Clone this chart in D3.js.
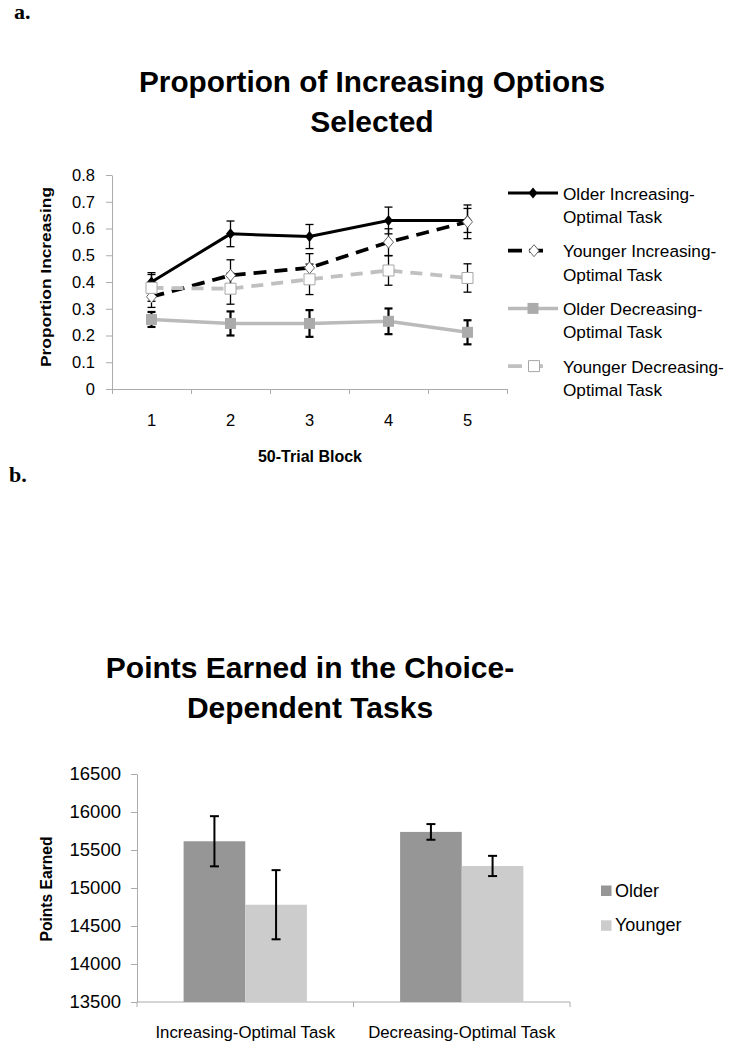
<!DOCTYPE html>
<html>
<head>
<meta charset="utf-8">
<script src="https://cdn.jsdelivr.net/npm/d3@7"></script>
<style>
  body { margin: 0; background: #fff; }
  svg text { font-family: "Liberation Sans", Arial, sans-serif; }
</style>
</head>
<body>
<script>
// ---- Chart a: proportion of increasing options ----
const blocks = [1, 2, 3, 4, 5];
const propTicks = [0, 0.1, 0.2, 0.3, 0.4, 0.5, 0.6, 0.7, 0.8];
const olderInc = [0.40, 0.58, 0.57, 0.63, 0.63];
const olderIncErr = [0.035, 0.048, 0.045, 0.05, 0.045];
const youngerInc = [0.345, 0.425, 0.453, 0.549, 0.625];
const youngerIncErr = [0.04, 0.058, 0.053, 0.05, 0.063];
const olderDec = [0.26, 0.245, 0.245, 0.253, 0.212];
const olderDecErr = [0.028, 0.045, 0.05, 0.048, 0.045];
const youngerDec = [0.378, 0.375, 0.41, 0.443, 0.415];
const youngerDecErr = [0.05, 0.058, 0.057, 0.055, 0.053];

// ---- Chart b: points earned ----
const tasks = ["Increasing-Optimal Task", "Decreasing-Optimal Task"];
const ageGroups = ["Older", "Younger"];
const olderPoints = [15615, 15738];
const olderPointsErr = [330, 103];
const youngerPoints = [14780, 15290];
const youngerPointsErr = [455, 133];
const pointTicks = [13500, 14000, 14500, 15000, 15500, 16000, 16500];

// Colors
const axisColor = "#ababab";
const greyLine = "#bababa";
const greyMarker = "#ababab";
const olderBar = "#969696";
const youngerBar = "#cccccc";

const svg = d3.select("body").append("svg")
    .attr("width", 730)
    .attr("height", 1050);

// Panel letters
svg.append("text")
    .attr("x", 14).attr("y", 19)
    .style("font-family", '"Liberation Serif", "Times New Roman", serif')
    .attr("font-weight", "bold")
    .attr("font-size", 22)
    .text("a.");

svg.append("text")
    .attr("x", 9).attr("y", 482)
    .style("font-family", '"Liberation Serif", "Times New Roman", serif')
    .attr("font-weight", "bold")
    .attr("font-size", 22)
    .text("b.");

// ================= Chart a =================
const xA = d3.scaleLinear().domain([0.5, 5.5]).range([112, 507]);
const yA = d3.scaleLinear().domain([0, 0.8]).range([389, 175]);

svg.append("text")
    .attr("x", 372).attr("y", 92)
    .attr("text-anchor", "middle")
    .attr("font-weight", "bold")
    .attr("font-size", 30)
    .attr("textLength", 466)
    .attr("lengthAdjust", "spacingAndGlyphs")
    .text("Proportion of Increasing Options");

svg.append("text")
    .attr("x", 372).attr("y", 132)
    .attr("text-anchor", "middle")
    .attr("font-weight", "bold")
    .attr("font-size", 30)
    .text("Selected");

// Y axis
const yAxisA = svg.append("g")
    .attr("transform", "translate(112,0)")
    .call(d3.axisLeft(yA)
        .tickValues(propTicks)
        .tickSize(6)
        .tickSizeOuter(0)
        .tickPadding(11)
        .tickFormat(d => d === 0 ? "0" : d3.format(".1f")(d)));
yAxisA.selectAll("path, line").attr("stroke", axisColor);
yAxisA.selectAll("text")
    .attr("font-size", 16.5)
    .attr("fill", "#000");

// X axis: ticks sit between blocks
const blockEdges = blocks.map(b => b - 0.5).concat(blocks[blocks.length - 1] + 0.5);
const xAxisA = svg.append("g")
    .attr("transform", "translate(0,389)")
    .call(d3.axisBottom(xA)
        .tickValues(blockEdges)
        .tickSize(5)
        .tickSizeOuter(0)
        .tickFormat(""));
xAxisA.selectAll("path, line").attr("stroke", axisColor);

svg.selectAll(".xlabA")
    .data(blocks)
    .join("text")
    .attr("class", "xlabA")
    .attr("x", d => xA(d))
    .attr("y", 426)
    .attr("text-anchor", "middle")
    .attr("font-size", 16.5)
    .text(d => d);

// Axis titles
svg.append("text")
    .attr("transform", "translate(51,277) rotate(-90)")
    .attr("text-anchor", "middle")
    .attr("font-weight", "bold")
    .attr("font-size", 15.5)
    .attr("textLength", 180)
    .attr("lengthAdjust", "spacingAndGlyphs")
    .text("Proportion Increasing");

svg.append("text")
    .attr("x", 310).attr("y", 462)
    .attr("text-anchor", "middle")
    .attr("font-weight", "bold")
    .attr("font-size", 16)
    .text("50-Trial Block");

// Marker shapes
const markerPath = {
    diamond: "M0,-5.5L4.5,0L0,5.5L-4.5,0Z",
    openDiamond: "M0,-6L5,0L0,6L-5,0Z",
    square: "M-5.5,-5.5H5.5V5.5H-5.5Z",
    openSquare: "M-5.5,-5.5H5.5V5.5H-5.5Z"
};

const series = [
    { label: ["Older Increasing-", "Optimal Task"], values: olderInc, err: olderIncErr,
      stroke: "#000", width: 3, dash: null, marker: "diamond", fill: "#000", mStroke: "none", errWidth: 1.3 },
    { label: ["Younger Increasing-", "Optimal Task"], values: youngerInc, err: youngerIncErr,
      stroke: "#000", width: 3.8, dash: "13,8", marker: "openDiamond", fill: "#fff", mStroke: "#666", errWidth: 1.3 },
    { label: ["Older Decreasing-", "Optimal Task"], values: olderDec, err: olderDecErr,
      stroke: greyLine, width: 3.5, dash: null, marker: "square", fill: greyMarker, mStroke: "none", errWidth: 2.2 },
    { label: ["Younger Decreasing-", "Optimal Task"], values: youngerDec, err: youngerDecErr,
      stroke: "#c0c0c0", width: 3.8, dash: "12,8", marker: "openSquare", fill: "#fff", mStroke: "#a6a6a6", errWidth: 1.3 }
];

const lineA = d3.line()
    .x((d, i) => xA(blocks[i]))
    .y(d => yA(d));

// Lines first, then error bars, then markers
series.forEach(s => {
    svg.append("path")
        .attr("d", lineA(s.values))
        .attr("fill", "none")
        .attr("stroke", s.stroke)
        .attr("stroke-width", s.width)
        .attr("stroke-dasharray", s.dash);
});

series.forEach(s => {
    s.values.forEach((v, i) => {
        const cx = xA(blocks[i]);
        const top = yA(v + s.err[i]);
        const bot = yA(v - s.err[i]);
        const g = svg.append("g")
            .attr("stroke", "#000")
            .attr("stroke-width", s.errWidth);
        g.append("line").attr("x1", cx).attr("x2", cx).attr("y1", top).attr("y2", bot);
        g.append("line").attr("x1", cx - 4).attr("x2", cx + 4).attr("y1", top).attr("y2", top);
        g.append("line").attr("x1", cx - 4).attr("x2", cx + 4).attr("y1", bot).attr("y2", bot);
    });
});

series.forEach(s => {
    s.values.forEach((v, i) => {
        svg.append("path")
            .attr("d", markerPath[s.marker])
            .attr("transform", `translate(${xA(blocks[i])},${yA(v)})`)
            .attr("fill", s.fill)
            .attr("stroke", s.mStroke)
            .attr("stroke-width", 1);
    });
});

// Legend
series.forEach((s, i) => {
    const ly = 193 + i * 57.7;
    const g = svg.append("g").attr("transform", `translate(508,${ly})`);
    g.append("line")
        .attr("x1", 0).attr("x2", s.dash ? 40 : 50)
        .attr("y1", 0).attr("y2", 0)
        .attr("stroke", s.stroke)
        .attr("stroke-width", s.width)
        .attr("stroke-dasharray", s.dash ? "14,7" : null);
    g.append("path")
        .attr("d", markerPath[s.marker])
        .attr("transform", `translate(${s.dash ? 26 : 25},0)`)
        .attr("fill", s.fill)
        .attr("stroke", s.mStroke)
        .attr("stroke-width", 1);
    const t = g.append("text")
        .attr("x", 55)
        .attr("y", 6.5)
        .attr("font-size", 17.2);
    t.append("tspan").attr("x", 55).attr("dy", 0).text(s.label[0]);
    t.append("tspan").attr("x", 55).attr("dy", 23.5).text(s.label[1]);
});

// ================= Chart b =================
const xB = d3.scaleBand().domain(tasks).range([137, 570]);
const xGroup = d3.scaleBand().domain(ageGroups).range([0, xB.bandwidth()]).paddingOuter(0.756);
const yB = d3.scaleLinear().domain([13500, 16500]).range([1002, 774]);

svg.append("text")
    .attr("x", 310).attr("y", 678)
    .attr("text-anchor", "middle")
    .attr("font-weight", "bold")
    .attr("font-size", 30)
    .text("Points Earned in the Choice-");

svg.append("text")
    .attr("x", 310).attr("y", 718)
    .attr("text-anchor", "middle")
    .attr("font-weight", "bold")
    .attr("font-size", 30)
    .text("Dependent Tasks");

// Y axis
const yAxisB = svg.append("g")
    .attr("transform", "translate(137,0)")
    .call(d3.axisLeft(yB)
        .tickValues(pointTicks)
        .tickSize(6)
        .tickSizeOuter(0)
        .tickPadding(10)
        .tickFormat(d3.format("d")));
yAxisB.selectAll("path, line").attr("stroke", axisColor);
yAxisB.selectAll("text")
    .attr("font-size", 18.5)
    .attr("fill", "#000");

// X axis with ticks at group boundaries
const taskEdges = tasks.map(t => xB(t)).concat(xB.range()[1]);
svg.append("line")
    .attr("x1", xB.range()[0]).attr("x2", xB.range()[1])
    .attr("y1", yB(13500)).attr("y2", yB(13500))
    .attr("stroke", axisColor);
svg.selectAll(".xtickB")
    .data(taskEdges)
    .join("line")
    .attr("class", "xtickB")
    .attr("x1", d => d).attr("x2", d => d)
    .attr("y1", yB(13500)).attr("y2", yB(13500) + 5)
    .attr("stroke", axisColor);

svg.selectAll(".xlabB")
    .data(tasks)
    .join("text")
    .attr("class", "xlabB")
    .attr("x", d => xB(d) + xB.bandwidth() / 2)
    .attr("y", 1038)
    .attr("text-anchor", "middle")
    .attr("font-size", 16.8)
    .text(d => d);

svg.append("text")
    .attr("transform", "translate(52,889) rotate(-90)")
    .attr("text-anchor", "middle")
    .attr("font-weight", "bold")
    .attr("font-size", 16)
    .attr("textLength", 105)
    .attr("lengthAdjust", "spacingAndGlyphs")
    .text("Points Earned");

// Bars
const barRows = tasks.map((t, i) => ({
    task: t,
    items: [
        { group: "Older", value: olderPoints[i], err: olderPointsErr[i], color: olderBar },
        { group: "Younger", value: youngerPoints[i], err: youngerPointsErr[i], color: youngerBar }
    ]
}));

const groupG = svg.selectAll(".taskGroup")
    .data(barRows)
    .join("g")
    .attr("class", "taskGroup")
    .attr("transform", d => `translate(${xB(d.task)},0)`);

groupG.selectAll("rect")
    .data(d => d.items)
    .join("rect")
    .attr("x", d => xGroup(d.group))
    .attr("width", xGroup.bandwidth())
    .attr("y", d => yB(d.value))
    .attr("height", d => yB(13500) - yB(d.value))
    .attr("fill", d => d.color);

// Error bars on bars
groupG.each(function (row) {
    const g = d3.select(this);
    row.items.forEach(d => {
        const cx = xGroup(d.group) + xGroup.bandwidth() / 2;
        const top = yB(d.value + d.err);
        const bot = yB(d.value - d.err);
        const eg = g.append("g").attr("stroke", "#000").attr("stroke-width", 2);
        eg.append("line").attr("x1", cx).attr("x2", cx).attr("y1", top).attr("y2", bot);
        eg.append("line").attr("x1", cx - 4.5).attr("x2", cx + 4.5).attr("y1", top).attr("y2", top);
        eg.append("line").attr("x1", cx - 4.5).attr("x2", cx + 4.5).attr("y1", bot).attr("y2", bot);
    });
});

// Legend b
const legendColors = [olderBar, youngerBar];
ageGroups.forEach((name, i) => {
    const ly = 885.5 + i * 34.8;
    svg.append("rect")
        .attr("x", 601).attr("y", ly)
        .attr("width", 10.5).attr("height", 10.5)
        .attr("fill", legendColors[i]);
    svg.append("text")
        .attr("x", 615).attr("y", ly + 11)
        .attr("font-size", 18)
        .text(name);
});
</script>
</body>
</html>
